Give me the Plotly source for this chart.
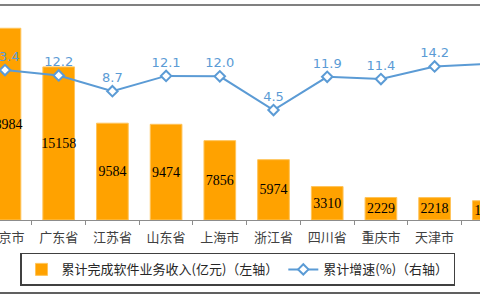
import plotly.graph_objects as go

categories = ["北京市", "广东省", "江苏省", "山东省", "上海市", "浙江省", "四川省", "重庆市", "天津市", "湖北省"]
revenue = [18984, 15158, 9584, 9474, 7856, 5974, 3310, 2229, 2218, 1905]
growth = [13.4, 12.2, 8.7, 12.1, 12.0, 4.5, 11.9, 11.4, 14.2, 14.8]
revenue_labels = [str(v) for v in revenue]
growth_labels = [f"{v:.1f}" for v in growth]
bar_name = "累计完成软件业务收入(亿元)（左轴）"
line_name = "累计增速(%)（右轴）"

fig = go.Figure()
fig.add_trace(go.Bar(
    x=categories, y=revenue, name=bar_name,
    marker=dict(color="#FFA200", line=dict(color="#FFC45A", width=1)),
    text=revenue_labels, textposition="inside", insidetextanchor="middle",
    textangle=0,
    textfont=dict(family="Liberation Serif", size=14, color="black"),
    constraintext="none", width=0.59,
))
fig.add_trace(go.Scatter(
    x=categories, y=growth, yaxis="y2", name=line_name,
    mode="lines+markers+text",
    line=dict(color="#5B9BD5", width=2),
    marker=dict(symbol="diamond", size=8, color="white", line=dict(color="#5B9BD5", width=2)),
    text=growth_labels, textposition="top center",
    textfont=dict(family="DejaVu Sans", size=13, color="#5B9BD5"),
    cliponaxis=False,
))

fig.update_layout(
    width=480, height=300,
    margin=dict(l=0, r=0, t=18, b=80, autoexpand=False),
    paper_bgcolor="white", plot_bgcolor="white",
    xaxis=dict(type="category", range=[-0.093, 8.845], showline=True, linecolor="#8C8C8C",
               ticks="outside", tickson="boundaries", ticklen=4, tickcolor="#8C8C8C",
               tickfont=dict(family="Noto Sans CJK SC", size=13, color="#404040"),
               ticklabelstandoff=5, automargin=False,
               showgrid=False, zeroline=False),
    yaxis=dict(range=[0, 20000], visible=False, automargin=False),
    yaxis2=dict(range=[-20, 25], overlaying="y", side="right", visible=False, automargin=False),
    showlegend=True,
    legend=dict(orientation="h", x=0.0417, y=-0.163, xanchor="left", yanchor="top",
                bordercolor="#404040", borderwidth=1.5,
                font=dict(family="Noto Sans CJK SC", size=13, color="#262626")),
    shapes=[
        dict(type="line", xref="paper", yref="paper", x0=0, x1=1, y0=1.0644, y1=1.0644,
             line=dict(color="#808080", width=2)),
        dict(type="line", xref="paper", yref="paper", x0=0, x1=1, y0=-0.361, y1=-0.361,
             line=dict(color="#606060", width=2)),
    ],
)

fig.write_html("out.html")
